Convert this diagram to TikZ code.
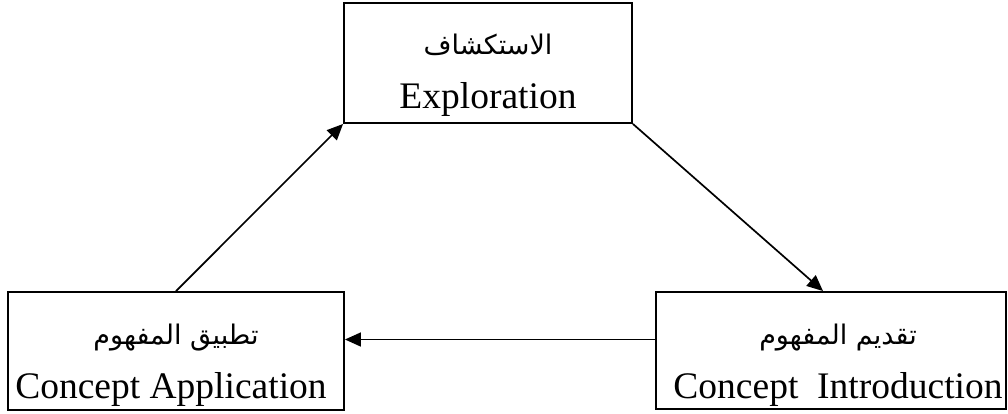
\documentclass[tikz,border=0pt]{standalone}
\usepackage{fontspec}
\setmainfont{Liberation Serif}
\newfontfamily\arabicfont[Script=Arabic]{DejaVu Sans}
\TeXXeTstate=1
\usetikzlibrary{arrows.meta}
\begin{document}
\begin{tikzpicture}[x=1pt,y=-1pt,
  boxnode/.style={draw, rectangle, line width=1.9pt, inner sep=0pt},
  arr/.style={line width=1.7pt, -{Triangle[length=16pt,width=14pt]}},
  entext/.style={anchor=base, inner sep=0pt, font=\fontsize{37.5}{40}\selectfont},
  artext/.style={anchor=base, inner sep=0pt, font=\arabicfont\fontsize{27}{30}\selectfont}]
\useasboundingbox (0,0) rectangle (1008,413);
\node[boxnode, minimum width=288pt, minimum height=120pt] (explore) at (488,63) {};
\node[boxnode, minimum width=336pt, minimum height=118pt] (apply) at (176,351) {};
\node[boxnode, minimum width=350pt, minimum height=117pt] (intro) at (831,350.5) {};
\node[artext] (exploreAr) at (488,54) {\beginR الاستكشاف\endR};
\node[entext] (exploreEn) at (488,108) {Exploration};
\node[artext] (applyAr) at (176,344) {\beginR تطبيق المفهوم\endR};
\node[entext] (applyEn) at (171,398) {Concept Application};
\node[artext] (introAr) at (838,344) {\beginR تقديم المفهوم\endR};
\node[entext] (introEn) at (838,398) {Concept\ \ Introduction};
\draw[arr] (apply.north) -- (explore.south west);
\draw[arr] (explore.south east) -- ([xshift=-8pt]intro.north);
\draw[arr] ([yshift=11pt]intro.west) -- ([yshift=11pt]intro.west -| apply.east);
\end{tikzpicture}
\end{document}
